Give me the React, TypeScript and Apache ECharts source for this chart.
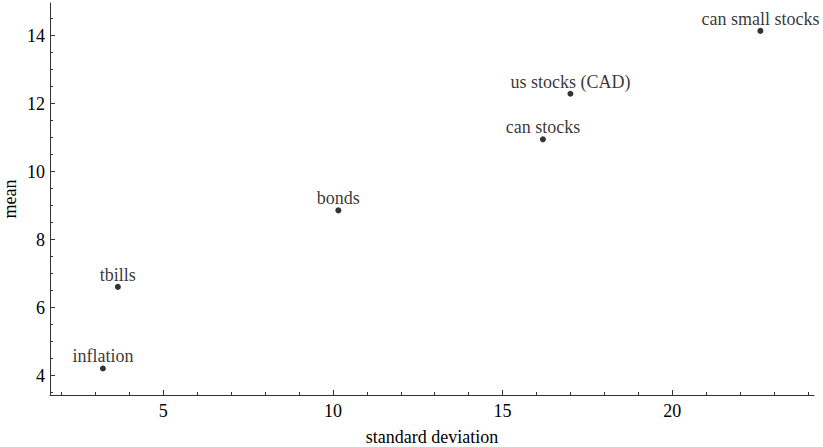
import React, { useEffect, useRef } from "react";
import * as echarts from "echarts";

const assetNames = ["inflation", "tbills", "bonds", "can stocks", "us stocks (CAD)", "can small stocks"];
const stdDevs = [3.22, 3.66, 10.16, 16.19, 17.0, 22.6];
const means = [4.21, 6.61, 8.86, 10.95, 12.29, 14.14];

const xMajorTicks = [5, 10, 15, 20];
const xMinorTicks = [2, 3, 4, 6, 7, 8, 9, 11, 12, 13, 14, 16, 17, 18, 19, 21, 22, 23, 24];
const yMajorTicks = [4, 6, 8, 10, 12, 14];
const yMinorTicks = [3.5, 4.5, 5, 5.5, 6.5, 7, 7.5, 8.5, 9, 9.5, 10.5, 11, 11.5, 12.5, 13, 13.5, 14.5];

const X_MIN = 1.66;
const X_MAX = 24.18;
const Y_MIN = 3.43;
const Y_MAX = 14.96;

const FONT = '"Liberation Serif", "Times New Roman", serif';
const AXIS_COLOR = "#333";

export default function App() {
  const ref = useRef<HTMLDivElement>(null);

  useEffect(() => {
    if (!ref.current) return;
    const chart = echarts.init(ref.current, null, { renderer: "svg" });
    const textStyle = { fontFamily: FONT, fontSize: 18, color: "#000" };
    const option: any = {
      animation: false,
      backgroundColor: "#fff",
      grid: { left: 50, right: 9, top: 3, bottom: 52, containLabel: false, outerBoundsMode: "none" },
      xAxis: [
        {
          type: "value",
          min: X_MIN,
          max: X_MAX,
          position: "bottom",
          name: "standard deviation",
          nameLocation: "middle",
          nameGap: 33,
          nameMoveOverlap: false,
          nameTextStyle: textStyle,
          axisLine: { show: true, onZero: false, lineStyle: { color: AXIS_COLOR, width: 1 } },
          axisTick: { show: true, inside: true, length: 5, customValues: xMajorTicks, lineStyle: { color: AXIS_COLOR } },
          axisLabel: { show: true, customValues: xMajorTicks, margin: 7, ...textStyle },
          splitLine: { show: false },
        },
        {
          type: "value",
          min: X_MIN,
          max: X_MAX,
          position: "bottom",
          axisLine: { show: false, onZero: false },
          axisTick: { show: true, inside: true, length: 3, customValues: xMinorTicks, lineStyle: { color: AXIS_COLOR } },
          axisLabel: { show: false },
          splitLine: { show: false },
        },
      ],
      yAxis: [
        {
          type: "value",
          min: Y_MIN,
          max: Y_MAX,
          position: "left",
          name: "mean",
          nameLocation: "middle",
          nameGap: 31,
          nameRotate: 90,
          nameMoveOverlap: false,
          nameTextStyle: textStyle,
          axisLine: { show: true, onZero: false, lineStyle: { color: AXIS_COLOR, width: 1 } },
          axisTick: { show: true, inside: true, length: 5, customValues: yMajorTicks, lineStyle: { color: AXIS_COLOR } },
          axisLabel: { show: true, customValues: yMajorTicks, margin: 5, ...textStyle },
          splitLine: { show: false },
        },
        {
          type: "value",
          min: Y_MIN,
          max: Y_MAX,
          position: "left",
          axisLine: { show: false, onZero: false },
          axisTick: { show: true, inside: true, length: 3, customValues: yMinorTicks, lineStyle: { color: AXIS_COLOR } },
          axisLabel: { show: false },
          splitLine: { show: false },
        },
      ],
      series: [
        {
          type: "scatter",
          xAxisIndex: 0,
          yAxisIndex: 0,
          symbol: "circle",
          symbolSize: 6,
          itemStyle: { color: "#000" },
          data: stdDevs.map((x, i) => ({ value: [x, means[i]], name: assetNames[i] })),
          label: {
            show: true,
            position: "top",
            distance: 0,
            formatter: (p: any) => p.name,
            ...textStyle,
          },
          emphasis: { disabled: true },
        },
      ],
    };
    chart.setOption(option);
    return () => chart.dispose();
  }, []);

  return (
    <div
      ref={ref}
      style={{ position: "fixed", left: 0, top: 0, width: 823, height: 447, background: "#fff" }}
    />
  );
}
